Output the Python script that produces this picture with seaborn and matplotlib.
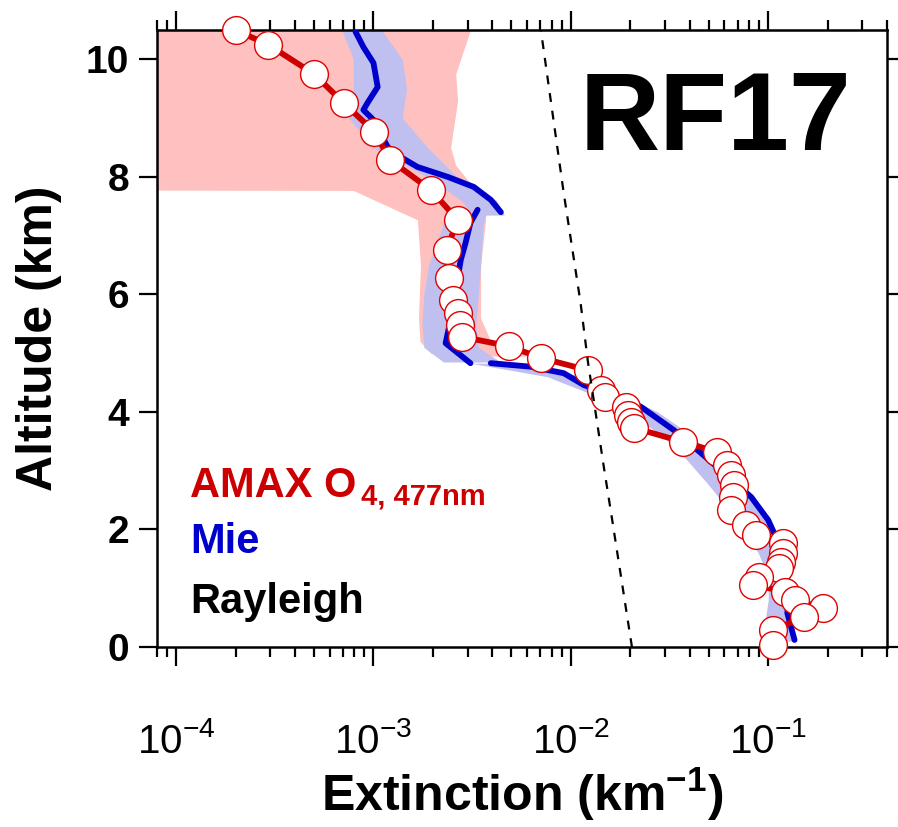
import numpy as np
import pandas as pd
import matplotlib
matplotlib.use("Agg")
import matplotlib.pyplot as plt
import matplotlib.ticker as mticker
import seaborn as sns

sns.set_theme(style="white")
plt.rcParams['font.family'] = ['Liberation Sans', 'DejaVu Sans']
plt.rcParams['mathtext.fontset'] = 'custom'
plt.rcParams['mathtext.rm'] = 'Liberation Sans'
plt.rcParams['mathtext.bf'] = 'Liberation Sans:bold'
for k in ['text.color', 'axes.labelcolor', 'xtick.color', 'ytick.color', 'axes.edgecolor']:
    plt.rcParams[k] = 'black'

# ---------------- data ----------------
amax_alt = [10.50, 10.25, 9.75, 9.26, 8.77, 8.29, 7.78, 7.27, 6.76, 6.28, 5.91, 5.69,
            5.48, 5.28, 5.12, 4.92, 4.71, 4.37, 4.26, 4.09, 3.95, 3.83, 3.73, 3.49,
            3.32, 3.10, 2.93, 2.76, 2.55, 2.33, 2.08, 1.91, 1.77, 1.60, 1.45, 1.34,
            1.19, 1.06, 0.94, 0.80, 0.66, 0.51, 0.29, 0.03]
amax_ext = [2.0e-4, 2.93e-4, 5.0e-4, 7.05e-4, 1.01e-3, 1.21e-3, 1.95e-3, 2.67e-3,
            2.35e-3, 2.40e-3, 2.52e-3, 2.67e-3, 2.74e-3, 2.80e-3, 4.84e-3, 7.05e-3,
            1.22e-2, 1.42e-2, 1.49e-2, 1.90e-2, 1.95e-2, 2.02e-2, 2.09e-2, 3.71e-2,
            5.51e-2, 6.19e-2, 6.49e-2, 6.72e-2, 6.64e-2, 6.49e-2, 7.73e-2, 8.69e-2,
            0.119, 0.119, 0.116, 0.114, 0.090, 0.084, 0.121, 0.136, 0.190, 0.152,
            0.106, 0.106]

# AMAX uncertainty range
amax_band_alt = [10.5, 9.75, 9.3, 8.5, 8.2, 7.78, 7.77, 7.27, 6.5, 5.6, 5.2, 5.0, 4.95]
amax_band_lo = [1e-5, 1e-5, 1e-5, 1e-5, 1e-5, 1e-5, 7.9e-4, 1.67e-3, 1.73e-3, 1.69e-3,
                1.72e-3, 1.95e-3, 2.2e-3]
amax_band_hi = [3.1e-3, 2.61e-3, 2.67e-3, 2.46e-3, 2.61e-3, 3.29e-3, 3.29e-3, 3.70e-3,
                3.49e-3, 3.49e-3, 3.93e-3, 5.92e-3, 5.92e-3]

# Mie profile (three segments)
mie_seg = [0]*14 + [1]*8 + [2]*16
mie_alt = [10.47, 10.21, 9.94, 9.53, 9.26, 9.14, 8.97, 8.51, 8.34, 8.17, 8.00, 7.83, 7.61, 7.40,
           7.44, 7.22, 6.88, 6.59, 6.08, 5.57, 5.17, 4.83,
           4.83, 4.77, 4.66, 4.46, 4.29, 4.09, 3.69, 3.30, 2.93, 2.55, 2.16, 1.74, 1.31,
           0.89, 0.58, 0.12]
mie_ext = [8.11e-4, 8.89e-4, 1.0e-3, 1.05e-3, 9.33e-4, 8.89e-4, 1.0e-3, 1.18e-3, 1.37e-3,
           1.67e-3, 2.38e-3, 3.22e-3, 3.93e-3, 4.42e-3,
           3.37e-3, 3.10e-3, 2.93e-3, 2.77e-3, 2.61e-3, 2.46e-3, 2.32e-3, 3.10e-3,
           3.93e-3, 6.27e-3, 9.2e-3, 1.16e-2, 1.60e-2, 2.26e-2, 3.33e-2, 4.57e-2, 6.12e-2,
           8.21e-2, 0.100, 0.114, 0.123, 0.128, 0.125, 0.136]

# Mie uncertainty bands (per segment)
mie_band_a_alt = [10.5, 10.0, 9.5, 9.0, 8.5, 8.0, 7.6, 7.35]
mie_band_a_lo = [6.9e-4, 7.9e-4, 7.9e-4, 7.5e-4, 9.9e-4, 1.87e-3, 2.78e-3, 3.2e-3]
mie_band_a_hi = [1.10e-3, 1.4e-3, 1.47e-3, 1.4e-3, 1.88e-3, 2.65e-3, 4.2e-3, 4.6e-3]
mie_band_b_alt = [7.45, 7.2, 6.5, 6.0, 5.5, 5.1, 4.85]
mie_band_b_lo = [2.85e-3, 2.26e-3, 1.90e-3, 1.80e-3, 1.76e-3, 1.80e-3, 2.26e-3]
mie_band_b_hi = [3.8e-3, 3.6e-3, 3.49e-3, 3.4e-3, 3.3e-3, 3.4e-3, 4.4e-3]
mie_band_c_alt = [4.83, 4.6, 4.3, 4.0, 3.6, 3.2, 2.8, 2.4, 2.0, 1.6, 1.2, 0.8, 0.4, 0.10]
mie_band_c_lo = [3.1e-3, 7.6e-3, 1.28e-2, 1.93e-2, 2.90e-2, 3.83e-2, 4.87e-2, 6.1e-2,
                 7.4e-2, 8.9e-2, 1.0e-1, 1.0e-1, 9.6e-2, 9.6e-2]
mie_band_c_hi = [4.6e-3, 1.2e-2, 1.8e-2, 2.75e-2, 4.1e-2, 5.3e-2, 7.0e-2, 8.9e-2,
                 1.08e-1, 1.22e-1, 1.24e-1, 1.26e-1, 1.29e-1, 1.36e-1]

# Rayleigh
ray_alt = [0.0, 2.28, 3.06, 4.86, 5.86, 7.73, 10.5]
ray_ext = [0.0204, 0.0160, 0.0147, 0.0122, 0.0112, 0.0092, 0.00705]

xtick_vals = [1e-4, 1e-3, 1e-2, 1e-1]
xtick_labels = [r"$\mathregular{10^{-4}}$", r"$\mathregular{10^{-3}}$",
                r"$\mathregular{10^{-2}}$", r"$\mathregular{10^{-1}}$"]
ytick_vals = [0, 2, 4, 6, 8, 10]

# ---------------- figure ----------------
W, H = 898, 827
fig = plt.figure(figsize=(W/100, H/100), dpi=100)
ax = fig.add_axes([157/W, 1-647/H, (887-157)/W, (647-30)/H])

pink = "#FFC0C0"
lav = "#C0C0F0"
ax.fill_betweenx(amax_band_alt, amax_band_lo, amax_band_hi, color=pink, lw=0, zorder=1)
for a, lo, hi in [(mie_band_a_alt, mie_band_a_lo, mie_band_a_hi),
                  (mie_band_b_alt, mie_band_b_lo, mie_band_b_hi),
                  (mie_band_c_alt, mie_band_c_lo, mie_band_c_hi)]:
    ax.fill_betweenx(a, lo, hi, color=lav, lw=0, zorder=2)

mie_df = pd.DataFrame({"ext": mie_ext, "alt": mie_alt, "seg": mie_seg})
sns.lineplot(data=mie_df, x="ext", y="alt", units="seg", estimator=None, sort=False,
             color="#0000CC", lw=4.2, ax=ax, zorder=3)

amax_df = pd.DataFrame({"ext": amax_ext, "alt": amax_alt})
sns.lineplot(data=amax_df, x="ext", y="alt", estimator=None, sort=False,
             color="#CC0000", lw=4.2, ax=ax, zorder=4)
sns.scatterplot(data=amax_df, x="ext", y="alt", s=400, marker="o", facecolor="white",
                edgecolor="#E00000", linewidth=1.0, ax=ax, zorder=5, clip_on=False)

ray_df = pd.DataFrame({"ext": ray_ext, "alt": ray_alt})
sns.lineplot(data=ray_df, x="ext", y="alt", estimator=None, sort=False,
             color="black", lw=1.6, ax=ax, zorder=6)
ax.lines[-1].set_dashes([4, 4])

ax.set_xscale("log")
ax.set_xlim(8.0e-5, 0.40)
ax.set_ylim(0, 10.5)

minor_vals = [m * 10.0**e for e in range(-5, 0) for m in range(2, 10)]
ax.xaxis.set_major_locator(mticker.FixedLocator(xtick_vals))
ax.xaxis.set_major_formatter(mticker.FixedFormatter(xtick_labels))
ax.xaxis.set_minor_locator(mticker.FixedLocator(minor_vals))
ax.xaxis.set_minor_formatter(mticker.NullFormatter())
ax.set_yticks(ytick_vals)
ax.set_yticklabels([str(v) for v in ytick_vals])

for s in ax.spines.values():
    s.set_linewidth(1.8)
    s.set_color("black")
ax.tick_params(axis="both", which="both", direction="out", top=True, right=True,
               bottom=True, left=True, color="black", width=1.6)
ax.tick_params(axis="x", which="major", length=14, pad=40, labelsize=29)
ax.tick_params(axis="x", which="minor", length=7, width=1.6)
ax.tick_params(axis="y", which="major", length=13, pad=7, labelsize=28)
for lab in ax.get_yticklabels():
    lab.set_fontweight("bold")

ax.set_xlabel(r"Extinction (km$^{\mathbf{-1}}$)", fontsize=36, fontweight="bold")
ax.set_ylabel("Altitude (km)", fontsize=36, fontweight="bold")
ax.yaxis.set_label_coords((62-157)/730, 0.5)
ax.xaxis.set_label_coords(0.5, (647-766)/617)

# annotations
fig.text(580/W, 1-150/H, "RF17", fontsize=80, fontweight="bold", ha="left", va="baseline")
t1 = fig.text(190/W, 1-497/H, "AMAX O", fontsize=30, fontweight="bold", color="#CC0000",
              ha="left", va="baseline")
ax.annotate("4, 477nm", xy=(1, 0), xycoords=t1, xytext=(3, 1), textcoords="offset points",
            fontsize=21, fontweight="bold", color="#CC0000", ha="left", va="baseline",
            annotation_clip=False)
fig.text(190/W, 1-553/H, "Mie", fontsize=30, fontweight="bold", color="#0000CC",
         ha="left", va="baseline")
fig.text(190/W, 1-613/H, "Rayleigh", fontsize=30, fontweight="bold", color="black",
         ha="left", va="baseline")

fig.savefig("out.png", dpi=100)
